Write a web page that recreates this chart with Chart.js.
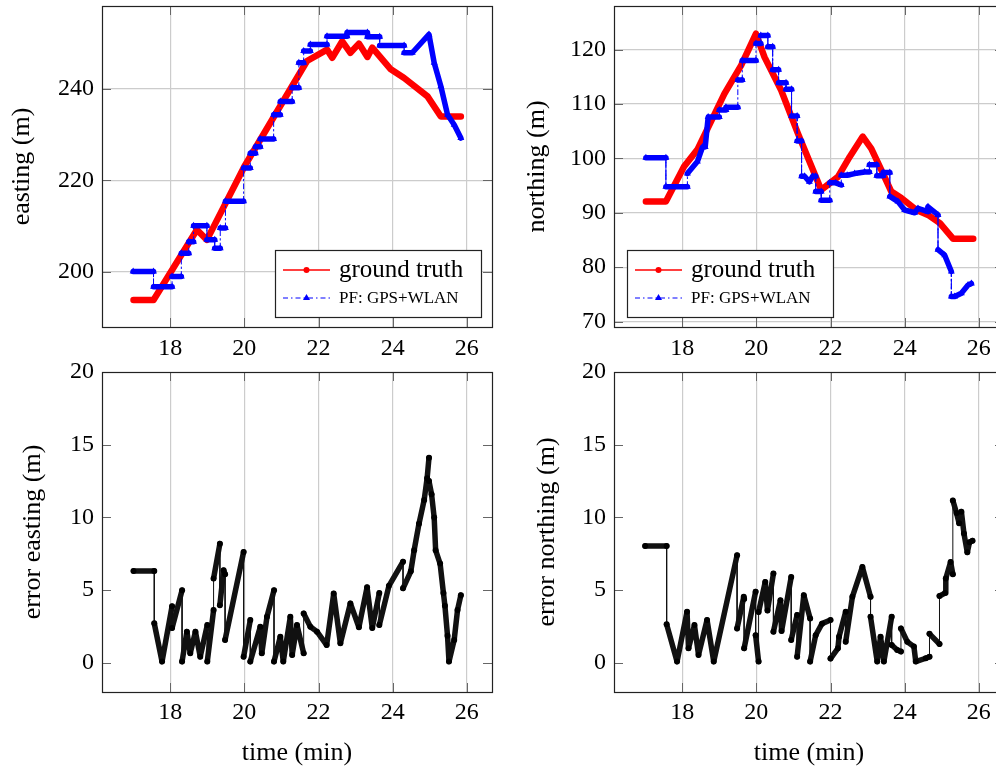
<!DOCTYPE html>
<html>
<head>
<meta charset="utf-8">
<script src="https://cdn.jsdelivr.net/npm/chart.js@4.4.0/dist/chart.umd.min.js"></script>
<style>
html, body { margin: 0; padding: 0; background: #fff; overflow: hidden; width: 996px; height: 767px; }
canvas { position: absolute; }
</style>
</head>
<body>
<canvas id="tl" width="510" height="362" style="left:0;top:0"></canvas>
<canvas id="tr" width="500" height="362" style="left:520px;top:0"></canvas>
<canvas id="bl" width="510" height="417" style="left:0;top:350px"></canvas>
<canvas id="br" width="500" height="417" style="left:520px;top:350px"></canvas>
<script>
const FONT = "'Liberation Serif', 'DejaVu Serif', serif";

const timeTicks = [18, 20, 22, 24, 26];
const eastTicks = [200, 220, 240];
const northTicks = [70, 80, 90, 100, 110, 120];
const errTicks = [0, 5, 10, 15, 20];

// easting (m)
const gtEastT = [17.01, 17.55, 18.72, 18.99, 20.0, 21.69, 22.23, 22.37, 22.64, 22.86, 23.09, 23.32, 23.45, 23.95, 24.31, 24.94, 25.30, 25.84];
const gtEastV = [193.9, 193.9, 209.2, 207.0, 223.0, 246.0, 248.5, 246.7, 250.3, 247.8, 249.8, 246.9, 248.9, 244.2, 242.3, 238.3, 233.9, 233.9];
const pfEastT = [17.0, 17.55, 17.55, 18.05, 18.05, 18.3, 18.3, 18.5, 18.5, 18.63, 18.63, 18.99, 18.99, 19.2, 19.2, 19.35, 19.35, 19.49, 19.49, 19.98,
  19.98, 20.16, 20.16, 20.3, 20.3, 20.43, 20.43, 20.79, 20.79, 20.97, 20.97, 21.29, 21.29, 21.47, 21.47, 21.6, 21.6, 21.78, 21.78, 22.23,
  22.23, 22.77, 22.77, 23.32, 23.32, 23.65, 23.65, 24.31, 24.31, 24.53, 24.98, 25.12, 25.3, 25.48, 25.66, 25.84];
const pfEastV = [200.1, 200.1, 196.8, 196.8, 199.0, 199.0, 204.1, 204.1, 206.6, 206.6, 210.1, 210.1, 207.0, 207.0, 205.2, 205.2, 209.6, 209.6, 215.4, 215.4,
  222.7, 222.7, 225.9, 225.9, 227.3, 227.3, 229.0, 229.0, 234.3, 234.3, 237.2, 237.2, 240.2, 240.2, 245.6, 245.6, 248.2, 248.2, 249.6, 249.6,
  251.4, 251.4, 252.2, 252.2, 251.3, 251.3, 249.4, 249.4, 247.8, 247.8, 251.8, 245.6, 240.5, 234.3, 232.1, 229.2];

// northing (m)
const gtNorthT = [17.02, 17.56, 18.05, 18.41, 19.14, 19.59, 19.99, 20.22, 20.67, 21.12, 21.75, 22.2, 22.52, 22.87, 23.1, 23.37, 23.64, 23.91, 24.32, 24.63, 24.95, 25.31, 25.85];
const gtNorthV = [92.05, 92.05, 98.5, 101.6, 111.9, 117.1, 122.9, 118.6, 112.5, 104.6, 94.2, 96.6, 100.3, 104.0, 101.8, 97.9, 93.9, 92.7, 90.5, 89.6, 88.1, 85.2, 85.2];
const pfNorthT = [17.02, 17.56, 17.56, 18.14, 18.14, 18.41, 18.55, 18.62, 18.7, 19.0, 19.0, 19.18, 19.18, 19.5, 19.5, 19.62, 19.62, 19.99, 19.99, 20.12,
  20.12, 20.31, 20.31, 20.44, 20.44, 20.6, 20.6, 20.8, 20.8, 20.95, 20.95, 21.1, 21.1, 21.22, 21.22, 21.3, 21.43, 21.52, 21.6, 21.6,
  21.75, 21.75, 21.98, 21.98, 22.14, 22.29, 22.29, 22.45, 22.65, 22.92, 23.05, 23.05, 23.25, 23.25, 23.42, 23.42, 23.6, 23.6, 23.82, 24.0,
  24.27, 24.36, 24.63, 24.63, 24.9, 24.9, 25.08, 25.26, 25.26, 25.35, 25.53, 25.71, 25.8];
const pfNorthV = [100.1, 100.1, 94.8, 94.8, 97.2, 99.4, 102.1, 102.1, 107.6, 107.6, 108.9, 108.9, 109.4, 109.4, 114.4, 114.4, 118.0, 118.0, 121.1, 121.1,
  122.6, 122.6, 120.5, 120.5, 116.3, 116.3, 113.9, 113.9, 112.7, 112.7, 107.8, 107.8, 103.2, 103.2, 96.7, 96.7, 95.7, 96.7, 96.7, 93.9,
  93.9, 92.3, 92.3, 95.5, 95.5, 95.1, 96.9, 96.9, 97.2, 97.5, 97.5, 98.8, 98.8, 96.8, 96.8, 97.4, 97.4, 93.0, 92.05, 90.5,
  90.0, 90.8, 90.2, 91.1, 89.6, 83.2, 82.2, 79.2, 74.6, 74.6, 75.2, 76.7, 77.0];

// error easting (m)
const errEastT = [17.01, 17.57, 17.57, 17.78, 18.05, 18.05, 18.32, 18.32, 18.45, 18.54, 18.68, 18.81, 19.0, 19.0, 19.17, 19.17, 19.34, 19.34, 19.44, 19.48,
  19.48, 19.98, 19.98, 20.16, 20.16, 20.43, 20.47, 20.61, 20.8, 20.8, 20.97, 21.05, 21.24, 21.29, 21.42, 21.6, 21.6, 21.78, 21.96, 22.22,
  22.41, 22.59, 22.86, 23.09, 23.31, 23.45, 23.64, 23.64, 23.9, 24.28, 24.28, 24.49, 24.58, 24.71, 24.85, 24.93, 24.98, 24.98, 25.05, 25.12,
  25.16, 25.28, 25.37, 25.41, 25.48, 25.52, 25.66, 25.75, 25.84];
const errEastV = [6.32, 6.32, 2.72, 0.09, 3.9, 2.4, 5.0, 0.09, 2.15, 0.66, 2.15, 0.43, 2.6, 0.09, 3.63, 5.8, 8.2, 3.97, 6.37, 6.1,
  1.58, 7.63, 0.43, 2.95, 0.09, 2.49, 0.66, 3.17, 5.0, 0.09, 1.8, 0.09, 3.17, 0.55, 2.6, 0.66, 3.4, 2.49, 2.15, 1.23,
  4.77, 1.35, 4.09, 2.45, 5.2, 2.4, 4.8, 2.6, 5.3, 6.96, 5.13, 6.3, 7.74, 9.56, 11.2, 12.7, 14.1, 12.5, 11.6, 10.0,
  7.74, 6.83, 4.8, 3.93, 1.87, 0.09, 1.58, 3.63, 4.66];

// error northing (m)
const errNorthT = [17.0, 17.58, 17.58, 17.86, 18.13, 18.17, 18.33, 18.44, 18.67, 18.85, 19.48, 19.48, 19.66, 19.67, 19.67, 19.98, 19.98, 20.06, 20.06, 20.24,
  20.3, 20.46, 20.46, 20.65, 20.68, 20.94, 20.94, 21.1, 21.1, 21.28, 21.45, 21.45, 21.6, 21.77, 22.0, 22.0, 22.2, 22.23, 22.41, 22.41,
  22.59, 22.86, 23.08, 23.08, 23.26, 23.35, 23.44, 23.65, 23.65, 23.8, 23.9, 23.9, 24.07, 24.25, 24.3, 24.57, 24.67, 24.67, 24.94, 24.94,
  25.09, 25.11, 25.24, 25.3, 25.3, 25.4, 25.47, 25.53, 25.6, 25.69, 25.75, 25.83];
const errNorthV = [8.04, 8.04, 2.65, 0.09, 3.52, 1.0, 2.6, 0.55, 2.95, 0.09, 7.4, 2.37, 4.54, 4.4, 1.0, 4.9, 1.9, 0.09, 3.5, 5.57,
  3.6, 6.14, 2.15, 4.3, 2.2, 5.9, 1.58, 3.3, 0.43, 4.66, 3.06, 0.09, 1.9, 2.7, 2.95, 0.3, 1.0, 1.8, 3.52, 1.46,
  4.54, 6.6, 4.54, 3.17, 0.09, 1.8, 0.09, 3.17, 1.23, 0.89, 0.78, 2.37, 1.46, 1.12, 0.09, 0.32, 0.43, 2.0, 1.3, 4.6,
  4.8, 5.8, 6.94, 6.1, 11.16, 10.3, 9.6, 10.4, 8.9, 7.6, 8.3, 8.4];

const pts = (t, v) => t.map((x, i) => ({ x, y: v[i] }));
const isJump = c => c.p0.parsed.x === c.p1.parsed.x;
const DASHDOT = [5, 3, 1.5, 3];

// box round the plot with short inner ticks on every side
const frame = {
  id: 'frame',
  afterDraw(chart) {
    const { ctx, chartArea: a, scales: { x, y } } = chart;
    const L = 9;
    ctx.save();
    ctx.strokeStyle = '#666';
    ctx.lineWidth = 1;
    ctx.beginPath();
    x.ticks.forEach(t => {
      const p = Math.round(x.getPixelForValue(t.value)) + 0.5;
      ctx.moveTo(p, a.bottom); ctx.lineTo(p, a.bottom - L);
      ctx.moveTo(p, a.top); ctx.lineTo(p, a.top + L);
    });
    y.ticks.forEach(t => {
      const p = Math.round(y.getPixelForValue(t.value)) + 0.5;
      ctx.moveTo(a.left, p); ctx.lineTo(a.left + L, p);
      ctx.moveTo(a.right, p); ctx.lineTo(a.right - L, p);
    });
    ctx.stroke();
    ctx.strokeStyle = '#222';
    ctx.lineWidth = 1.2;
    ctx.strokeRect(a.left + 0.5, a.top + 0.5, a.right - a.left, a.bottom - a.top);
    ctx.restore();
  }
};

const boxLegend = {
  id: 'boxLegend',
  afterDraw(chart, args, o) {
    if (!o.show) return;
    const { ctx, chartArea: a } = chart;
    const w = 206, h = 67;
    const x0 = o.side === 'right' ? a.right - 11 - w : a.left + 13;
    const y0 = a.bottom - 10 - h;
    ctx.save();
    ctx.fillStyle = '#fff';
    ctx.fillRect(x0, y0, w, h);
    ctx.strokeStyle = '#222';
    ctx.lineWidth = 1.2;
    ctx.strokeRect(x0 + 0.5, y0 + 0.5, w, h);

    const r1 = y0 + 20, r2 = y0 + 48;
    ctx.strokeStyle = 'red';
    ctx.lineWidth = 1.5;
    ctx.beginPath(); ctx.moveTo(x0 + 8, r1); ctx.lineTo(x0 + 55, r1); ctx.stroke();
    ctx.fillStyle = 'red';
    ctx.beginPath(); ctx.arc(x0 + 31.5, r1, 3, 0, Math.PI * 2); ctx.fill();

    ctx.strokeStyle = 'blue';
    ctx.lineWidth = 1;
    ctx.setLineDash(DASHDOT);
    ctx.beginPath(); ctx.moveTo(x0 + 8, r2); ctx.lineTo(x0 + 55, r2); ctx.stroke();
    ctx.setLineDash([]);
    ctx.fillStyle = 'blue';
    ctx.beginPath();
    ctx.moveTo(x0 + 31.5, r2 - 4); ctx.lineTo(x0 + 35, r2 + 2); ctx.lineTo(x0 + 28, r2 + 2);
    ctx.closePath(); ctx.fill();

    ctx.fillStyle = '#000';
    ctx.textBaseline = 'middle';
    ctx.font = `25px ${FONT}`;
    ctx.fillText('ground truth', x0 + 64, r1);
    ctx.font = `17px ${FONT}`;
    ctx.fillText('PF: GPS+WLAN', x0 + 64, r2 + 1);
    ctx.restore();
  }
};

function trackSets(gtT, gtV, pfT, pfV) {
  return [
    {
      data: pts(pfT, pfV), order: 0,
      borderColor: 'blue', borderWidth: 1, borderJoinStyle: 'round', borderCapStyle: 'round',
      pointStyle: 'triangle', pointRadius: 4, pointBackgroundColor: 'blue', pointBorderWidth: 0,
      segment: {
        borderWidth: c => isJump(c) ? 1 : 5.5,
        borderDash: c => isJump(c) ? DASHDOT : []
      }
    },
    {
      data: pts(gtT, gtV), order: 1,
      borderColor: 'red', borderWidth: 6.5, borderJoinStyle: 'round', borderCapStyle: 'round',
      pointRadius: 0
    }
  ];
}

function errorSet(t, v) {
  return [{
    data: pts(t, v),
    borderColor: '#111', borderWidth: 1, borderJoinStyle: 'round', borderCapStyle: 'round',
    pointRadius: 3, pointBackgroundColor: '#000', pointBorderWidth: 0,
    segment: { borderWidth: c => isJump(c) ? 1 : 5.5 }
  }];
}

function makeChart(id, c) {
  const tickFont = { family: FONT, size: 24 };
  const titleFont = { family: FONT, size: 26, lineHeight: 1.1 };
  return new Chart(document.getElementById(id), {
    type: 'line',
    data: { datasets: c.datasets },
    options: {
      responsive: false,
      animation: false,
      events: [],
      layout: { padding: c.pad },
      plugins: {
        legend: { display: false },
        tooltip: { enabled: false },
        boxLegend: c.legend || { show: false }
      },
      scales: {
        x: {
          type: 'linear', min: 16.16, max: 26.68,
          afterBuildTicks: s => { s.ticks = timeTicks.map(v => ({ value: v })); },
          afterFit: s => { s.height = c.xh; s.paddingLeft = 0; s.paddingRight = 0; },
          grid: { color: '#cccccc', lineWidth: 1.2, drawTicks: false },
          border: { display: false },
          ticks: { font: tickFont, color: '#000', padding: c.xpad, maxRotation: 0, autoSkip: false },
          title: { display: !!c.xTitle, text: c.xTitle || '', font: titleFont, color: '#000', padding: { top: 0, bottom: 0 } }
        },
        y: {
          type: 'linear', min: c.ymin, max: c.ymax,
          afterBuildTicks: s => { s.ticks = c.yTicks.map(v => ({ value: v })); },
          afterFit: s => { s.width = c.yw; s.paddingTop = 0; s.paddingBottom = 0; },
          grid: { display: c.yGrid, color: '#cccccc', lineWidth: 1.2, drawTicks: false },
          border: { display: false },
          ticks: { font: tickFont, color: '#000', padding: 8 },
          title: { display: true, text: c.yTitle, font: titleFont, color: '#000', padding: { top: c.ytp, bottom: 0 } }
        }
      }
    },
    plugins: [frame, boxLegend]
  });
}

makeChart('tl', {
  datasets: trackSets(gtEastT, gtEastV, pfEastT, pfEastV),
  pad: { top: 6, right: 18, bottom: 0, left: 0 }, yw: 102, xh: 35, xpad: 7,
  ymin: 188, ymax: 258, yTicks: eastTicks, yGrid: true, yTitle: 'easting (m)', ytp: 8,
  legend: { show: true, side: 'right' }
});
makeChart('tr', {
  datasets: trackSets(gtNorthT, gtNorthV, pfNorthT, pfNorthV),
  pad: { top: 6, right: 16, bottom: 0, left: 0 }, yw: 94, xh: 35, xpad: 7,
  ymin: 69, ymax: 128, yTicks: northTicks, yGrid: true, yTitle: 'northing (m)', ytp: 3,
  legend: { show: true, side: 'left' }
});
makeChart('bl', {
  datasets: errorSet(errEastT, errEastV),
  pad: { top: 22, right: 18, bottom: 0, left: 0 }, yw: 102, xh: 75, xpad: 6,
  ymin: -2, ymax: 20, yTicks: errTicks, yGrid: false, yTitle: 'error easting (m)', ytp: 19,
  xTitle: 'time (min)'
});
makeChart('br', {
  datasets: errorSet(errNorthT, errNorthV),
  pad: { top: 22, right: 16, bottom: 0, left: 0 }, yw: 94, xh: 75, xpad: 6,
  ymin: -2, ymax: 20, yTicks: errTicks, yGrid: false, yTitle: 'error northing (m)', ytp: 13,
  xTitle: 'time (min)'
});
</script>
</body>
</html>
